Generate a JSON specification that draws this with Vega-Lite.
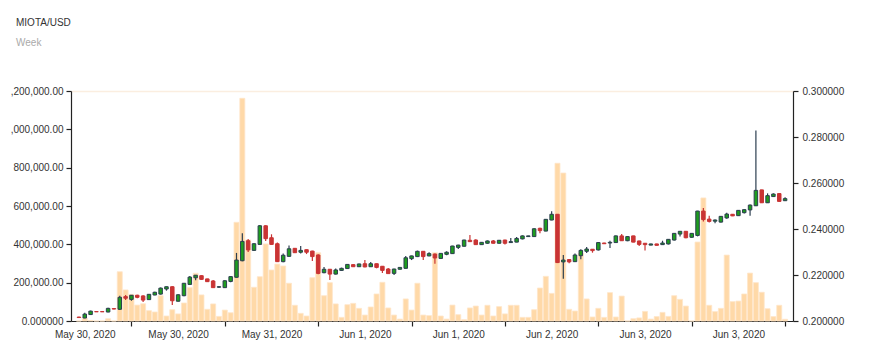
{
  "$schema": "https://vega.github.io/schema/vega-lite/v6.json",
  "width": 722,
  "height": 230,
  "autosize": {"type": "none"},
  "padding": {"left": 71, "top": 91, "right": 79, "bottom": 34},
  "background": "#ffffff",
  "config": {
    "view": {"stroke": null},
    "font": "Liberation Sans",
    "axis": {"labelFont": "Liberation Sans", "labelFontSize": 10, "labelColor": "#333333", "domainColor": "#222222", "tickColor": "#222222", "grid": false}
  },
  "title": {
    "text": "MIOTA/USD",
    "subtitle": "Week",
    "anchor": "start",
    "frame": "group",
    "dx": -55,
    "offset": 38,
    "font": "Liberation Sans",
    "fontSize": 10,
    "fontWeight": "normal",
    "color": "#333333",
    "subtitleFont": "Liberation Sans",
    "subtitleFontSize": 10,
    "subtitleColor": "#aaaaaa",
    "subtitlePadding": 10
  },
  "data": {"values": [
    {"time":"2020-05-30T07:00:00","open":0.2017,"high":0.2018,"low":0.2014,"close":0.2015,"volume":0},
    {"time":"2020-05-30T08:00:00","open":0.2013,"high":0.2036,"low":0.2012,"close":0.2030,"volume":15000},
    {"time":"2020-05-30T09:00:00","open":0.2028,"high":0.2045,"low":0.2027,"close":0.2043,"volume":3000},
    {"time":"2020-05-30T10:00:00","open":0.2041,"high":0.2042,"low":0.2039,"close":0.2040,"volume":0},
    {"time":"2020-05-30T11:00:00","open":0.2041,"high":0.2042,"low":0.2039,"close":0.2040,"volume":0},
    {"time":"2020-05-30T12:00:00","open":0.2039,"high":0.2058,"low":0.2038,"close":0.2055,"volume":12000},
    {"time":"2020-05-30T13:00:00","open":0.2054,"high":0.2055,"low":0.2051,"close":0.2052,"volume":0},
    {"time":"2020-05-30T14:00:00","open":0.2051,"high":0.2110,"low":0.2048,"close":0.2103,"volume":257000},
    {"time":"2020-05-30T15:00:00","open":0.2106,"high":0.2113,"low":0.2091,"close":0.2099,"volume":162000},
    {"time":"2020-05-30T16:00:00","open":0.2094,"high":0.2113,"low":0.2088,"close":0.2112,"volume":139000},
    {"time":"2020-05-30T17:00:00","open":0.2112,"high":0.2114,"low":0.2099,"close":0.2103,"volume":83000},
    {"time":"2020-05-30T18:00:00","open":0.2109,"high":0.2112,"low":0.2083,"close":0.2091,"volume":90000},
    {"time":"2020-05-30T19:00:00","open":0.2093,"high":0.2117,"low":0.2092,"close":0.2116,"volume":54000},
    {"time":"2020-05-30T20:00:00","open":0.2113,"high":0.2127,"low":0.2112,"close":0.2125,"volume":47000},
    {"time":"2020-05-30T21:00:00","open":0.2117,"high":0.2146,"low":0.2115,"close":0.2143,"volume":132000},
    {"time":"2020-05-30T22:00:00","open":0.2139,"high":0.2150,"low":0.2132,"close":0.2149,"volume":26000},
    {"time":"2020-05-30T23:00:00","open":0.2149,"high":0.2151,"low":0.2070,"close":0.2088,"volume":59000},
    {"time":"2020-05-31T00:00:00","open":0.2086,"high":0.2116,"low":0.2085,"close":0.2114,"volume":37000},
    {"time":"2020-05-31T01:00:00","open":0.2110,"high":0.2165,"low":0.2108,"close":0.2164,"volume":94000},
    {"time":"2020-05-31T02:00:00","open":0.2159,"high":0.2196,"low":0.2158,"close":0.2191,"volume":174000},
    {"time":"2020-05-31T03:00:00","open":0.2188,"high":0.2200,"low":0.2177,"close":0.2199,"volume":249000},
    {"time":"2020-05-31T04:00:00","open":0.2197,"high":0.2199,"low":0.2179,"close":0.2181,"volume":136000},
    {"time":"2020-05-31T05:00:00","open":0.2183,"high":0.2184,"low":0.2170,"close":0.2171,"volume":61000},
    {"time":"2020-05-31T06:00:00","open":0.2174,"high":0.2178,"low":0.2143,"close":0.2145,"volume":89000},
    {"time":"2020-05-31T07:00:00","open":0.2147,"high":0.2151,"low":0.2145,"close":0.2149,"volume":24000},
    {"time":"2020-05-31T08:00:00","open":0.2145,"high":0.2177,"low":0.2144,"close":0.2175,"volume":57000},
    {"time":"2020-05-31T09:00:00","open":0.2172,"high":0.2194,"low":0.2169,"close":0.2193,"volume":43000},
    {"time":"2020-05-31T10:00:00","open":0.2190,"high":0.2296,"low":0.2189,"close":0.2265,"volume":515000},
    {"time":"2020-05-31T11:00:00","open":0.2262,"high":0.2381,"low":0.2260,"close":0.2346,"volume":1162000},
    {"time":"2020-05-31T12:00:00","open":0.2349,"high":0.2357,"low":0.2300,"close":0.2309,"volume":423000},
    {"time":"2020-05-31T13:00:00","open":0.2307,"high":0.2338,"low":0.2305,"close":0.2336,"volume":176000},
    {"time":"2020-05-31T14:00:00","open":0.2333,"high":0.2417,"low":0.2332,"close":0.2414,"volume":231000},
    {"time":"2020-05-31T15:00:00","open":0.2414,"high":0.2416,"low":0.2348,"close":0.2358,"volume":402000},
    {"time":"2020-05-31T16:00:00","open":0.2362,"high":0.2377,"low":0.2332,"close":0.2333,"volume":266000},
    {"time":"2020-05-31T17:00:00","open":0.2336,"high":0.2341,"low":0.2256,"close":0.2258,"volume":297000},
    {"time":"2020-05-31T18:00:00","open":0.2258,"high":0.2294,"low":0.2255,"close":0.2286,"volume":287000},
    {"time":"2020-05-31T19:00:00","open":0.2281,"high":0.2328,"low":0.2280,"close":0.2314,"volume":197000},
    {"time":"2020-05-31T20:00:00","open":0.2316,"high":0.2317,"low":0.2296,"close":0.2297,"volume":82000},
    {"time":"2020-05-31T21:00:00","open":0.2299,"high":0.2326,"low":0.2293,"close":0.2307,"volume":40000},
    {"time":"2020-05-31T22:00:00","open":0.2310,"high":0.2311,"low":0.2291,"close":0.2299,"volume":26000},
    {"time":"2020-05-31T23:00:00","open":0.2304,"high":0.2305,"low":0.2261,"close":0.2280,"volume":226000},
    {"time":"2020-06-01T00:00:00","open":0.2287,"high":0.2290,"low":0.2203,"close":0.2207,"volume":356000},
    {"time":"2020-06-01T01:00:00","open":0.2210,"high":0.2235,"low":0.2208,"close":0.2225,"volume":132000},
    {"time":"2020-06-01T02:00:00","open":0.2225,"high":0.2226,"low":0.2178,"close":0.2204,"volume":200000},
    {"time":"2020-06-01T03:00:00","open":0.2204,"high":0.2228,"low":0.2202,"close":0.2222,"volume":89000},
    {"time":"2020-06-01T04:00:00","open":0.2220,"high":0.2232,"low":0.2218,"close":0.2229,"volume":19000},
    {"time":"2020-06-01T05:00:00","open":0.2228,"high":0.2248,"low":0.2226,"close":0.2246,"volume":85000},
    {"time":"2020-06-01T06:00:00","open":0.2245,"high":0.2247,"low":0.2235,"close":0.2236,"volume":92000},
    {"time":"2020-06-01T07:00:00","open":0.2236,"high":0.2249,"low":0.2235,"close":0.2248,"volume":66000},
    {"time":"2020-06-01T08:00:00","open":0.2249,"high":0.2265,"low":0.2234,"close":0.2235,"volume":31000},
    {"time":"2020-06-01T09:00:00","open":0.2236,"high":0.2257,"low":0.2235,"close":0.2249,"volume":73000},
    {"time":"2020-06-01T10:00:00","open":0.2249,"high":0.2250,"low":0.2229,"close":0.2233,"volume":141000},
    {"time":"2020-06-01T11:00:00","open":0.2238,"high":0.2239,"low":0.2209,"close":0.2220,"volume":202000},
    {"time":"2020-06-01T12:00:00","open":0.2226,"high":0.2230,"low":0.2205,"close":0.2206,"volume":68000},
    {"time":"2020-06-01T13:00:00","open":0.2207,"high":0.2227,"low":0.2200,"close":0.2226,"volume":31000},
    {"time":"2020-06-01T14:00:00","open":0.2225,"high":0.2234,"low":0.2224,"close":0.2233,"volume":10000},
    {"time":"2020-06-01T15:00:00","open":0.2229,"high":0.2283,"low":0.2228,"close":0.2275,"volume":115000},
    {"time":"2020-06-01T16:00:00","open":0.2271,"high":0.2284,"low":0.2265,"close":0.2283,"volume":57000},
    {"time":"2020-06-01T17:00:00","open":0.2280,"high":0.2306,"low":0.2278,"close":0.2303,"volume":197000},
    {"time":"2020-06-01T18:00:00","open":0.2303,"high":0.2304,"low":0.2265,"close":0.2280,"volume":31000},
    {"time":"2020-06-01T19:00:00","open":0.2283,"high":0.2299,"low":0.2282,"close":0.2293,"volume":28000},
    {"time":"2020-06-01T20:00:00","open":0.2291,"high":0.2293,"low":0.2249,"close":0.2274,"volume":356000},
    {"time":"2020-06-01T21:00:00","open":0.2272,"high":0.2295,"low":0.2271,"close":0.2294,"volume":26000},
    {"time":"2020-06-01T22:00:00","open":0.2290,"high":0.2303,"low":0.2286,"close":0.2299,"volume":10000},
    {"time":"2020-06-01T23:00:00","open":0.2293,"high":0.2327,"low":0.2292,"close":0.2326,"volume":83000},
    {"time":"2020-06-02T00:00:00","open":0.2320,"high":0.2331,"low":0.2313,"close":0.2330,"volume":33000},
    {"time":"2020-06-02T01:00:00","open":0.2325,"high":0.2353,"low":0.2324,"close":0.2352,"volume":7000},
    {"time":"2020-06-02T02:00:00","open":0.2351,"high":0.2374,"low":0.2344,"close":0.2345,"volume":68000},
    {"time":"2020-06-02T03:00:00","open":0.2352,"high":0.2355,"low":0.2330,"close":0.2332,"volume":78000},
    {"time":"2020-06-02T04:00:00","open":0.2332,"high":0.2343,"low":0.2331,"close":0.2342,"volume":31000},
    {"time":"2020-06-02T05:00:00","open":0.2338,"high":0.2350,"low":0.2336,"close":0.2348,"volume":82000},
    {"time":"2020-06-02T06:00:00","open":0.2348,"high":0.2352,"low":0.2337,"close":0.2338,"volume":26000},
    {"time":"2020-06-02T07:00:00","open":0.2338,"high":0.2352,"low":0.2337,"close":0.2351,"volume":75000},
    {"time":"2020-06-02T08:00:00","open":0.2352,"high":0.2353,"low":0.2333,"close":0.2338,"volume":37000},
    {"time":"2020-06-02T09:00:00","open":0.2341,"high":0.2361,"low":0.2340,"close":0.2345,"volume":82000},
    {"time":"2020-06-02T10:00:00","open":0.2343,"high":0.2365,"low":0.2342,"close":0.2359,"volume":82000},
    {"time":"2020-06-02T11:00:00","open":0.2357,"high":0.2372,"low":0.2355,"close":0.2370,"volume":19000},
    {"time":"2020-06-02T12:00:00","open":0.2367,"high":0.2371,"low":0.2366,"close":0.2370,"volume":19000},
    {"time":"2020-06-02T13:00:00","open":0.2367,"high":0.2403,"low":0.2366,"close":0.2401,"volume":59000},
    {"time":"2020-06-02T14:00:00","open":0.2403,"high":0.2405,"low":0.2381,"close":0.2393,"volume":172000},
    {"time":"2020-06-02T15:00:00","open":0.2391,"high":0.2443,"low":0.2390,"close":0.2442,"volume":233000},
    {"time":"2020-06-02T16:00:00","open":0.2439,"high":0.2477,"low":0.2438,"close":0.2464,"volume":144000},
    {"time":"2020-06-02T17:00:00","open":0.2464,"high":0.2465,"low":0.2252,"close":0.2254,"volume":823000},
    {"time":"2020-06-02T18:00:00","open":0.2257,"high":0.2287,"low":0.2184,"close":0.2265,"volume":772000},
    {"time":"2020-06-02T19:00:00","open":0.2267,"high":0.2268,"low":0.2251,"close":0.2257,"volume":61000},
    {"time":"2020-06-02T20:00:00","open":0.2258,"high":0.2293,"low":0.2257,"close":0.2287,"volume":52000},
    {"time":"2020-06-02T21:00:00","open":0.2284,"high":0.2312,"low":0.2268,"close":0.2307,"volume":353000},
    {"time":"2020-06-02T22:00:00","open":0.2303,"high":0.2322,"low":0.2296,"close":0.2313,"volume":115000},
    {"time":"2020-06-02T23:00:00","open":0.2312,"high":0.2313,"low":0.2297,"close":0.2306,"volume":21000},
    {"time":"2020-06-03T00:00:00","open":0.2309,"high":0.2343,"low":0.2307,"close":0.2341,"volume":66000},
    {"time":"2020-06-03T01:00:00","open":0.2339,"high":0.2340,"low":0.2335,"close":0.2336,"volume":19000},
    {"time":"2020-06-03T02:00:00","open":0.2339,"high":0.2349,"low":0.2317,"close":0.2342,"volume":148000},
    {"time":"2020-06-03T03:00:00","open":0.2341,"high":0.2372,"low":0.2340,"close":0.2370,"volume":21000},
    {"time":"2020-06-03T04:00:00","open":0.2370,"high":0.2378,"low":0.2348,"close":0.2349,"volume":130000},
    {"time":"2020-06-03T05:00:00","open":0.2349,"high":0.2369,"low":0.2347,"close":0.2367,"volume":0},
    {"time":"2020-06-03T06:00:00","open":0.2370,"high":0.2371,"low":0.2342,"close":0.2343,"volume":12000},
    {"time":"2020-06-03T07:00:00","open":0.2348,"high":0.2349,"low":0.2326,"close":0.2333,"volume":16000},
    {"time":"2020-06-03T08:00:00","open":0.2338,"high":0.2339,"low":0.2306,"close":0.2332,"volume":50000},
    {"time":"2020-06-03T09:00:00","open":0.2330,"high":0.2336,"low":0.2329,"close":0.2335,"volume":10000},
    {"time":"2020-06-03T10:00:00","open":0.2335,"high":0.2336,"low":0.2328,"close":0.2329,"volume":23000},
    {"time":"2020-06-03T11:00:00","open":0.2332,"high":0.2349,"low":0.2331,"close":0.2339,"volume":45000},
    {"time":"2020-06-03T12:00:00","open":0.2335,"high":0.2357,"low":0.2333,"close":0.2355,"volume":24000},
    {"time":"2020-06-03T13:00:00","open":0.2352,"high":0.2383,"low":0.2350,"close":0.2381,"volume":132000},
    {"time":"2020-06-03T14:00:00","open":0.2378,"high":0.2391,"low":0.2367,"close":0.2390,"volume":113000},
    {"time":"2020-06-03T15:00:00","open":0.2390,"high":0.2391,"low":0.2360,"close":0.2362,"volume":78000},
    {"time":"2020-06-03T16:00:00","open":0.2364,"high":0.2382,"low":0.2362,"close":0.2381,"volume":0},
    {"time":"2020-06-03T17:00:00","open":0.2372,"high":0.2479,"low":0.2368,"close":0.2478,"volume":412000},
    {"time":"2020-06-03T18:00:00","open":0.2478,"high":0.2491,"low":0.2433,"close":0.2441,"volume":642000},
    {"time":"2020-06-03T19:00:00","open":0.2443,"high":0.2458,"low":0.2428,"close":0.2433,"volume":82000},
    {"time":"2020-06-03T20:00:00","open":0.2434,"high":0.2441,"low":0.2425,"close":0.2439,"volume":49000},
    {"time":"2020-06-03T21:00:00","open":0.2430,"high":0.2456,"low":0.2428,"close":0.2455,"volume":66000},
    {"time":"2020-06-03T22:00:00","open":0.2448,"high":0.2471,"low":0.2445,"close":0.2465,"volume":344000},
    {"time":"2020-06-03T23:00:00","open":0.2464,"high":0.2465,"low":0.2456,"close":0.2457,"volume":101000},
    {"time":"2020-06-04T00:00:00","open":0.2458,"high":0.2483,"low":0.2456,"close":0.2481,"volume":104000},
    {"time":"2020-06-04T01:00:00","open":0.2471,"high":0.2486,"low":0.2467,"close":0.2484,"volume":141000},
    {"time":"2020-06-04T02:00:00","open":0.2483,"high":0.2506,"low":0.2458,"close":0.2504,"volume":250000},
    {"time":"2020-06-04T03:00:00","open":0.2501,"high":0.2828,"low":0.2500,"close":0.2568,"volume":200000},
    {"time":"2020-06-04T04:00:00","open":0.2570,"high":0.2571,"low":0.2513,"close":0.2514,"volume":150000},
    {"time":"2020-06-04T05:00:00","open":0.2514,"high":0.2555,"low":0.2513,"close":0.2545,"volume":64000},
    {"time":"2020-06-04T06:00:00","open":0.2541,"high":0.2555,"low":0.2539,"close":0.2552,"volume":23000},
    {"time":"2020-06-04T07:00:00","open":0.2554,"high":0.2556,"low":0.2518,"close":0.2520,"volume":82000},
    {"time":"2020-06-04T08:00:00","open":0.2523,"high":0.2538,"low":0.2522,"close":0.2532,"volume":9000}
  ]},
  "resolve": {"scale": {"y": "independent"}, "axis": {"x": "independent", "y": "independent"}},
  "layer": [
    {
      "mark": {"type": "bar", "width": 5, "fill": "#ffd9a8", "stroke": "#ffe6c9", "strokeWidth": 0.8},
      "encoding": {
        "x": {
          "field": "time", "type": "temporal",
          "scale": {"domain": [{"year": 2020, "month": 5, "date": 30, "hours": 6, "minutes": 30}, {"year": 2020, "month": 6, "date": 4, "hours": 8, "minutes": 30}]},
          "axis": {
            "orient": "bottom", "title": null, "labels": false, "grid": false, "tickSize": 5, "domainWidth": 1.2, "tickWidth": 1.2,
            "values": [
              {"year": 2020, "month": 5, "date": 30, "hours": 16},
              {"year": 2020, "month": 5, "date": 31, "hours": 8},
              {"year": 2020, "month": 6, "date": 1, "hours": 0},
              {"year": 2020, "month": 6, "date": 1, "hours": 16},
              {"year": 2020, "month": 6, "date": 2, "hours": 8},
              {"year": 2020, "month": 6, "date": 3, "hours": 0},
              {"year": 2020, "month": 6, "date": 3, "hours": 16},
              {"year": 2020, "month": 6, "date": 4, "hours": 8}
            ]
          }
        },
        "y": {
          "field": "volume", "type": "quantitative",
          "scale": {"domain": [0, 1200000], "nice": false},
          "axis": {
            "orient": "left", "title": null, "values": [0, 200000, 400000, 600000, 800000, 1000000, 1200000],
            "labelExpr": "datum.value == 0 ? '0.000000' : (datum.value >= 1000000 ? slice(format(datum.value, ',.2f'), 1) : format(datum.value, ',.2f'))",
            "tickSize": 5, "labelPadding": 3, "domainWidth": 1.2, "tickWidth": 1.2,
            "grid": true, "gridColor": "#fbeee0", "gridWidth": 1.5,
            "gridOpacity": {"condition": {"test": "datum.value == 1200000", "value": 1}, "value": 0}
          }
        }
      }
    },
    {
      "mark": {"type": "rule", "strokeWidth": 1.2},
      "encoding": {
        "x": {
          "field": "time", "type": "temporal",
          "axis": {
            "orient": "bottom", "title": null, "ticks": false, "domain": false, "grid": false, "labelPadding": 8,
            "labelExpr": "timeFormat(datum.value - 28800000, '%b %-d, %Y')",
            "values": [
              {"year": 2020, "month": 5, "date": 30, "hours": 8},
              {"year": 2020, "month": 5, "date": 31, "hours": 0},
              {"year": 2020, "month": 5, "date": 31, "hours": 16},
              {"year": 2020, "month": 6, "date": 1, "hours": 8},
              {"year": 2020, "month": 6, "date": 2, "hours": 0},
              {"year": 2020, "month": 6, "date": 2, "hours": 16},
              {"year": 2020, "month": 6, "date": 3, "hours": 8},
              {"year": 2020, "month": 6, "date": 4, "hours": 0}
            ]
          }
        },
        "y": {
          "field": "low", "type": "quantitative",
          "scale": {"domain": [0.2, 0.3], "nice": false, "zero": false},
          "axis": {
            "orient": "right", "title": null, "values": [0.2, 0.22, 0.24, 0.26, 0.28, 0.3],
            "format": ".6f", "tickSize": 5, "labelPadding": 4, "domainWidth": 1.2, "tickWidth": 1.2, "grid": false
          }
        },
        "y2": {"field": "high"},
        "color": {"condition": {"test": "datum.close >= datum.open", "value": "#2c3e50"}, "value": "#c93434"}
      }
    },
    {
      "mark": {"type": "bar", "width": 3.5, "strokeWidth": 1},
      "encoding": {
        "x": {"field": "time", "type": "temporal", "axis": null},
        "y": {
          "field": "open", "type": "quantitative",
          "scale": {"domain": [0.2, 0.3], "nice": false, "zero": false},
          "axis": null
        },
        "y2": {"field": "close"},
        "fill": {"condition": {"test": "datum.close >= datum.open", "value": "#1e9e1e"}, "value": "#c93434"},
        "stroke": {"condition": {"test": "datum.close >= datum.open", "value": "#2c3e50"}, "value": "#c93434"}
      }
    }
  ]
}
